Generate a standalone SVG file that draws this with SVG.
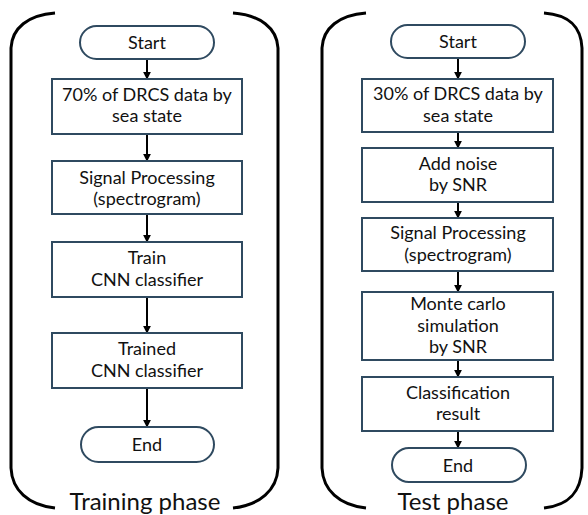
<svg xmlns="http://www.w3.org/2000/svg" width="588" height="515" viewBox="0 0 588 515">
<defs>
<style>
.box{fill:#fff;stroke:#2f4a60;stroke-width:2}
.t{font-family:Lato,"Open Sans",sans-serif;font-size:18px;fill:#111;text-anchor:middle}
.ph{font-family:Lato,"Open Sans",sans-serif;font-size:24px;fill:#111;text-anchor:middle}
.br{fill:none;stroke:#000;stroke-width:3}
.ar{stroke:#000;stroke-width:2;fill:none;marker-end:url(#ah)}
</style>
<marker id="ah" viewBox="0 0 10 10" refX="9" refY="5" markerWidth="4" markerHeight="4" orient="auto" markerUnits="strokeWidth">
<path d="M0,0 L10,5 L0,10 Z" fill="#000"/>
</marker>
</defs>
<rect width="588" height="515" fill="#fff"/>
<g id="brackets">
<path class="br" d="M55,13 C28,15 12,28 11,48 L11,468 C12,490 28,505 55,508"/>
<path class="br" d="M233,13 C260,15 277,28 278,48 L278,468 C277,490 260,505 233,508"/>
<path class="br" d="M366,13 C339,15 323,28 322,48 L322,468 C323,490 339,505 366,508"/>
<path class="br" d="M544,13 C571,15 581,28 582,48 L582,468 C581,490 571,505 544,508"/>
</g>
<g id="connectors">
<line class="ar" x1="147" y1="59" x2="147" y2="79"/>
<line class="ar" x1="147" y1="134" x2="147" y2="161"/>
<line class="ar" x1="147" y1="214" x2="147" y2="242"/>
<line class="ar" x1="147" y1="297" x2="147" y2="333"/>
<line class="ar" x1="147" y1="388" x2="147" y2="427"/>
<line class="ar" x1="458" y1="58" x2="458" y2="79"/>
<line class="ar" x1="458" y1="132" x2="458" y2="148"/>
<line class="ar" x1="458" y1="202" x2="458" y2="218"/>
<line class="ar" x1="458" y1="271" x2="458" y2="292"/>
<line class="ar" x1="458" y1="360" x2="458" y2="377"/>
<line class="ar" x1="458" y1="431" x2="458" y2="448"/>
</g>
<g id="train-start"><rect class="box" x="80" y="26" width="134" height="33" rx="16.5"/><text class="t" x="147" y="49">Start</text></g>
<g id="train-data"><rect class="box" x="52" y="79" width="190" height="55"/><text class="t" x="147" y="100.5">70% of DRCS data by</text><text class="t" x="147" y="122.2">sea state</text></g>
<g id="train-sp"><rect class="box" x="52" y="161" width="190" height="53"/><text class="t" x="147" y="183.5">Signal Processing</text><text class="t" x="147" y="205.2">(spectrogram)</text></g>
<g id="train-cnn"><rect class="box" x="52" y="242" width="190" height="55"/><text class="t" x="147" y="264">Train</text><text class="t" x="147" y="285.7">CNN classifier</text></g>
<g id="trained-cnn"><rect class="box" x="52" y="333" width="190" height="55"/><text class="t" x="147" y="355">Trained</text><text class="t" x="147" y="376.7">CNN classifier</text></g>
<g id="train-end"><rect class="box" x="81" y="427" width="133" height="35" rx="17.5"/><text class="t" x="147" y="451">End</text></g>
<g id="test-start"><rect class="box" x="391" y="25" width="134" height="33" rx="16.5"/><text class="t" x="458" y="48">Start</text></g>
<g id="test-data"><rect class="box" x="362" y="79" width="191" height="53"/><text class="t" x="458" y="100">30% of DRCS data by</text><text class="t" x="458" y="121.7">sea state</text></g>
<g id="test-noise"><rect class="box" x="362" y="148" width="191" height="54"/><text class="t" x="458" y="169.5">Add noise</text><text class="t" x="458" y="191.2">by SNR</text></g>
<g id="test-sp"><rect class="box" x="362" y="218" width="191" height="53"/><text class="t" x="458" y="239">Signal Processing</text><text class="t" x="458" y="260.7">(spectrogram)</text></g>
<g id="test-mc"><rect class="box" x="362" y="292" width="191" height="68"/><text class="t" x="458" y="310">Monte carlo</text><text class="t" x="458" y="331.7">simulation</text><text class="t" x="458" y="353.4">by SNR</text></g>
<g id="test-result"><rect class="box" x="362" y="377" width="191" height="54"/><text class="t" x="458" y="398.5">Classification</text><text class="t" x="458" y="420.2">result</text></g>
<g id="test-end"><rect class="box" x="392" y="448" width="134" height="34" rx="17"/><text class="t" x="458" y="471.5">End</text></g>
<g id="labels">
<text class="ph" x="145" y="510">Training phase</text>
<text class="ph" x="453" y="510">Test phase</text>
</g>
</svg>
